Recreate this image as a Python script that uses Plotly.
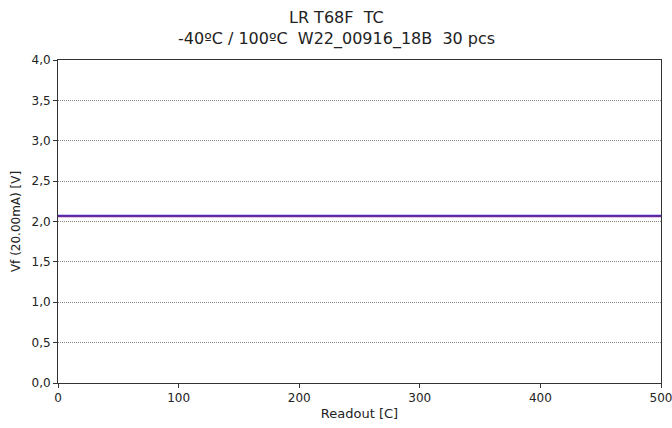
import plotly.graph_objects as go

readout = [0, 100, 200, 300, 400, 500]
vf_blue = [2.07, 2.07, 2.07, 2.07, 2.07, 2.07]
vf_purple = [2.065, 2.065, 2.065, 2.065, 2.065, 2.065]
y_ticks = [0, 0.5, 1, 1.5, 2, 2.5, 3, 3.5, 4]
x_ticks = [0, 100, 200, 300, 400, 500]
title_lines = ["LR T68F  TC", "-40ºC / 100ºC  W22_00916_18B  30 pcs"]

fig = go.Figure()
fig.add_trace(go.Scatter(x=readout, y=vf_blue, mode="lines",
                         line=dict(color="#2a2ad0", width=2), showlegend=False))
fig.add_trace(go.Scatter(x=readout, y=vf_purple, mode="lines",
                         line=dict(color="#6a2a9a", width=2), showlegend=False))

font = "DejaVu Sans, sans-serif"
fig.update_layout(
    width=672, height=428,
    margin=dict(l=58, r=11, t=60, b=45),
    paper_bgcolor="white", plot_bgcolor="white",
    separators=",.",
    font=dict(family=font, size=12, color="#222"),
    xaxis=dict(range=[0, 500.001], tickvals=x_ticks, showgrid=False, zeroline=False,
               showline=True, linecolor="#333", linewidth=1, mirror=True,
               ticks="outside", ticklen=4, tickcolor="#333", automargin=False,
               ticklabeloverflow="allow",
               title=dict(text="Readout [C]", standoff=4, font=dict(size=13))),
    yaxis=dict(range=[0, 4], tickvals=y_ticks, tickformat=".1f",
               showgrid=True, gridcolor="#888", griddash="1px,1px", gridwidth=1,
               zeroline=False, showline=True, linecolor="#333", linewidth=1, mirror=True,
               ticks="outside", ticklen=4, tickcolor="#333", automargin=False,
               title=dict(text="Vf (20.00mA) [V]", standoff=8, font=dict(size=12))),
)
fig.add_annotation(text=title_lines[0], xref="paper", yref="paper", x=(336 - 58) / 603,
                   y=1 + (60 - 17) / 323, xanchor="center", yanchor="middle",
                   showarrow=False, font=dict(size=16, color="#222"))
fig.add_annotation(text=title_lines[1], xref="paper", yref="paper", x=(336 - 58) / 603,
                   y=1 + (60 - 39) / 323, xanchor="center", yanchor="middle",
                   showarrow=False, font=dict(size=16, color="#222"))
fig.write_html("out.html", config={"displayModeBar": False},
               post_script="document.body.style.margin='0';document.body.style.overflow='hidden';")
